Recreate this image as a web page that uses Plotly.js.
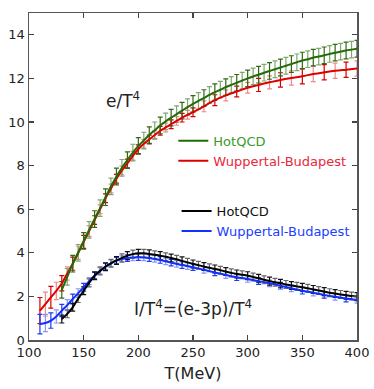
<!DOCTYPE html>
<html>
<head>
<meta charset="utf-8">
<script src="https://cdn.plot.ly/plotly-3.0.1.min.js"></script>
<style>
  html, body { margin: 0; padding: 0; background: #fff; }
  #chart { width: 374px; height: 389px; }
</style>
</head>
<body>
<div id="chart"></div>
<script>
// e/T^4, HotQCD
var tGreen = [130,135,140,145,150,155,160,165,170,175,180,185,190,195,200,205,210,215,220,225,230,235,240,245,250,255,260,265,270,275,280,285,290,295,300,305,310,315,320,325,330,335,340,345,350,355,360,365,370,375,380,385,390,395,400];
var eGreen = [2.3,2.9,3.5,4.0,4.55,5.05,5.55,6.05,6.55,7.05,7.5,7.9,8.25,8.6,8.9,9.15,9.4,9.62,9.84,10.03,10.2,10.36,10.52,10.68,10.83,10.97,11.1,11.24,11.37,11.48,11.6,11.7,11.8,11.9,12.0,12.09,12.17,12.26,12.34,12.42,12.5,12.58,12.66,12.74,12.82,12.88,12.95,13.0,13.06,13.12,13.18,13.23,13.28,13.32,13.36];

// e/T^4, Wuppertal-Budapest
var tRed = [110,115,120,125,130,135,140,145,150,155,160,165,170,175,180,185,190,195,200,205,210,215,220,225,230,235,240,245,250,260,270,280,290,300,310,320,330,340,350,360,370,380,390,400];
var eRed = [1.35,1.65,1.96,2.25,2.6,3.05,3.5,4.0,4.5,5.0,5.5,6.0,6.5,6.95,7.4,7.78,8.1,8.45,8.75,9.0,9.2,9.4,9.6,9.75,9.9,10.05,10.2,10.33,10.45,10.72,11.0,11.22,11.4,11.57,11.7,11.82,11.93,12.02,12.1,12.2,12.28,12.35,12.4,12.45];
var errRed = [0.6,0.55,0.5,0.4,0.35,0.3,0.3,0.3,0.3,0.25,0.2,0.2,0.2,0.2,0.2,0.2,0.2,0.2,0.2,0.2,0.2,0.2,0.2,0.2,0.2,0.2,0.2,0.2,0.2,0.25,0.25,0.25,0.25,0.25,0.3,0.3,0.33,0.33,0.35,0.35,0.35,0.35,0.35,0.35];

// I/T^4, HotQCD
var tBlack = [130,135,140,145,150,155,160,165,170,175,180,185,190,195,200,205,210,215,220,225,230,235,240,245,250,255,260,265,270,275,280,285,290,295,300,305,310,315,320,325,330,335,340,345,350,355,360,365,370,375,380,385,390,395,400];
var iBlack = [0.96,1.2,1.5,1.9,2.26,2.62,2.95,3.17,3.36,3.52,3.65,3.77,3.87,3.94,3.98,3.98,3.95,3.91,3.87,3.82,3.76,3.7,3.63,3.56,3.49,3.43,3.37,3.31,3.26,3.2,3.14,3.08,3.03,2.99,2.95,2.89,2.83,2.76,2.7,2.65,2.6,2.55,2.5,2.46,2.42,2.37,2.32,2.27,2.22,2.17,2.13,2.09,2.05,2.02,1.99];

// I/T^4, Wuppertal-Budapest
var tBlue = [110,115,120,125,130,135,140,145,150,155,160,165,170,175,180,185,190,195,200,205,210,215,220,225,230,235,240,245,250,260,270,280,290,300,310,320,330,340,350,360,370,380,390,400];
var iBlue = [0.73,0.78,0.89,1.08,1.35,1.6,1.88,2.15,2.42,2.7,2.95,3.17,3.37,3.52,3.64,3.71,3.76,3.79,3.8,3.79,3.76,3.72,3.67,3.61,3.55,3.49,3.44,3.39,3.34,3.22,3.1,2.98,2.88,2.8,2.7,2.6,2.49,2.37,2.26,2.17,2.07,1.98,1.9,1.84];
var errBlue = [0.45,0.4,0.35,0.3,0.28,0.25,0.22,0.2,0.18,0.16,0.15,0.15,0.15,0.15,0.15,0.15,0.15,0.15,0.15,0.15,0.15,0.15,0.15,0.15,0.15,0.15,0.15,0.15,0.15,0.15,0.15,0.15,0.15,0.15,0.15,0.15,0.15,0.15,0.15,0.15,0.15,0.15,0.15,0.15];

var errGreen = 0.38;
var errBlack = 0.18;

// error bars come in two alternating shades
function pick(arr, odd) {
    if (!Array.isArray(arr)) return arr;
    return arr.filter(function(v, k) { return (k % 2 === 1) === odd; });
}

function bars(x, y, err, col, odd) {
    var e = Array.isArray(err) ? pick(err, odd) : x.filter(function(v, k) { return (k % 2 === 1) === odd; }).map(function() { return err; });
    return {
        x: pick(x, odd), y: pick(y, odd),
        mode: 'markers', marker: {size: 1, color: col},
        error_y: {type: 'data', array: e, visible: true, color: col, thickness: 1.2, width: 2.5},
        showlegend: false, hoverinfo: 'skip'
    };
}

function line(x, y, col, name, leg) {
    return {
        x: x, y: y, mode: 'lines', name: name, legend: leg,
        line: {color: col, width: 2, shape: 'spline'}
    };
}

var data = [
    bars(tRed, eRed, errRed, '#d40000', false),
    bars(tRed, eRed, errRed, '#f08a8a', true),
    bars(tGreen, eGreen, errGreen, '#2f6a12', false),
    bars(tGreen, eGreen, errGreen, '#7fa86e', true),
    bars(tBlue, iBlue, errBlue, '#1c3cf0', false),
    bars(tBlue, iBlue, errBlue, '#8a96f5', true),
    bars(tBlack, iBlack, errBlack, '#111111', false),
    bars(tBlack, iBlack, errBlack, '#666666', true),
    line(tRed, eRed, '#dd0000', '<span style="color:#e8283c">Wuppertal-Budapest</span>', 'legend'),
    line(tGreen, eGreen, '#226b08', '<span style="color:#3a9a2a">HotQCD</span>', 'legend'),
    line(tBlue, iBlue, '#1030ff', '<span style="color:#2040ff">Wuppertal-Budapest</span>', 'legend2'),
    line(tBlack, iBlack, '#000000', '<span style="color:#111">HotQCD</span>', 'legend2')
];

var legStyle = {
    xref: 'paper', yref: 'paper', xanchor: 'left', yanchor: 'top',
    bgcolor: 'rgba(0,0,0,0)', borderwidth: 0, traceorder: 'reversed',
    font: {family: 'DejaVu Sans, sans-serif', size: 13}, itemwidth: 30, tracegroupgap: 0
};

var layout = {
    width: 374, height: 389,
    margin: {l: 29, r: 17, t: 13, b: 49},
    paper_bgcolor: '#fff', plot_bgcolor: '#fff',
    font: {family: 'DejaVu Sans, sans-serif', color: '#222'},
    showlegend: true,
    legend: Object.assign({x: 0.44, y: 0.655}, legStyle),
    legend2: Object.assign({x: 0.45, y: 0.44}, legStyle),
    xaxis: {
        range: [100, 400], tickvals: [100, 150, 200, 250, 300, 350, 400],
        ticks: 'inside', ticklen: 5, tickwidth: 1.3, tickcolor: '#444',
        mirror: 'ticks', showline: true, linecolor: '#555', linewidth: 1.5,
        showgrid: false, zeroline: false,
        tickfont: {size: 13, color: '#222'},
        title: {text: 'T(MeV)', font: {size: 16, color: '#222'}, standoff: 8}
    },
    yaxis: {
        range: [0, 15], tickvals: [0, 2, 4, 6, 8, 10, 12, 14],
        ticks: 'inside', ticklen: 5, tickwidth: 1.3, tickcolor: '#444',
        mirror: 'ticks', showline: true, linecolor: '#555', linewidth: 1.5,
        showgrid: false, zeroline: false,
        tickfont: {size: 13, color: '#222'}
    },
    annotations: [
        {x: 186, y: 11.0, text: 'e/T<sup>4</sup>', showarrow: false, font: {size: 17, color: '#222'}},
        {x: 250, y: 1.45, text: 'I/T<sup>4</sup>=(e-3p)/T<sup>4</sup>', showarrow: false, font: {size: 17, color: '#222'}}
    ]
};

Plotly.newPlot('chart', data, layout, {displayModeBar: false, staticPlot: true});
</script>
</body>
</html>
